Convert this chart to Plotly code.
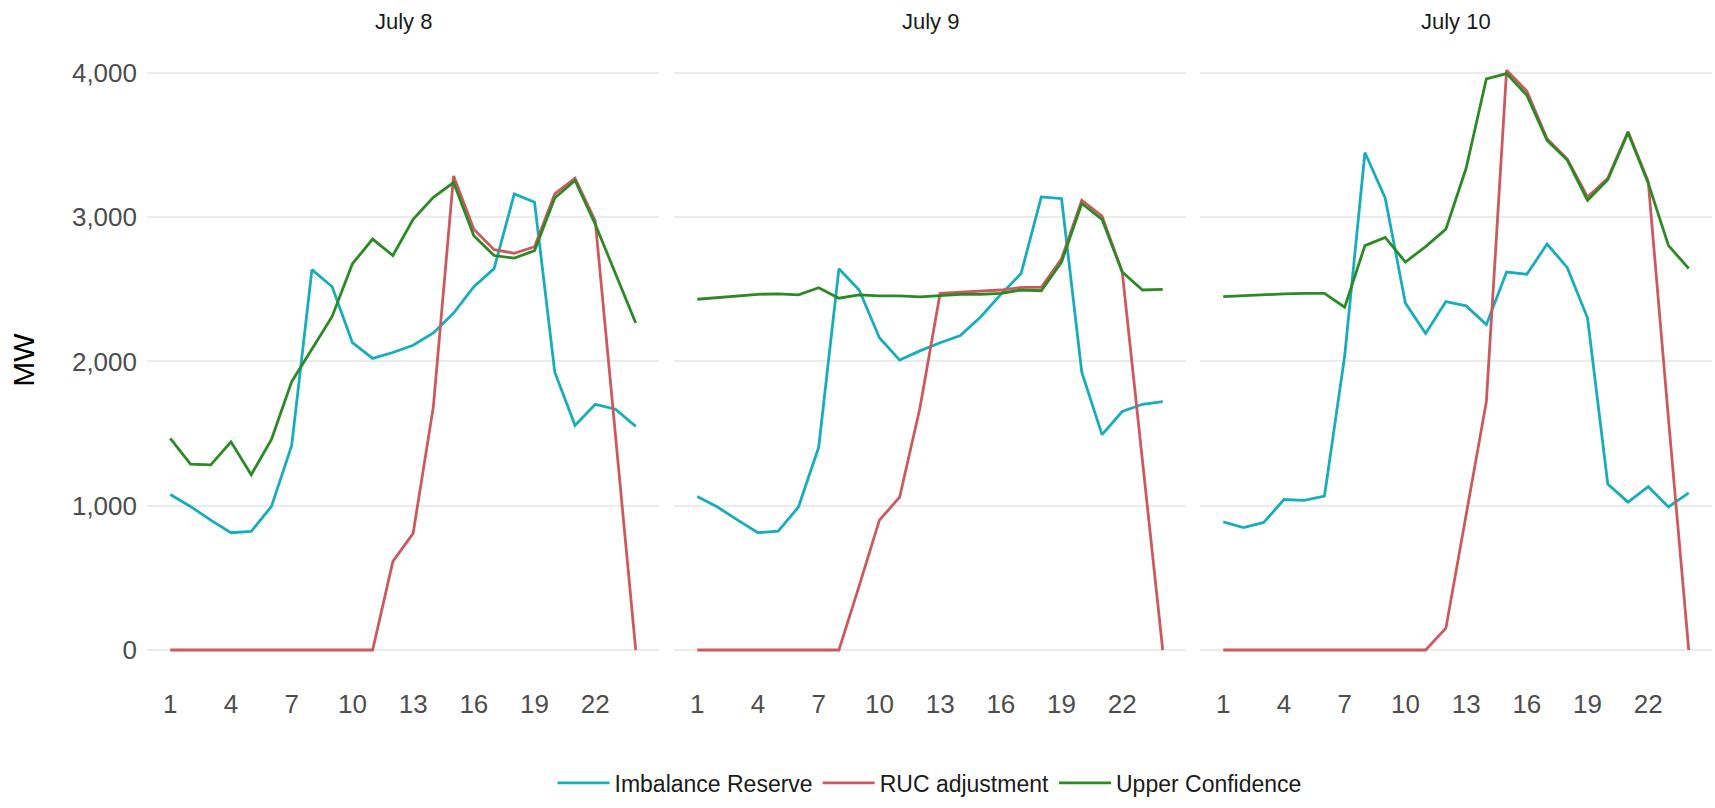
import plotly.graph_objects as go

# Hour-ending index for each day
hours = list(range(1, 25))
days = ["July 8", "July 9", "July 10"]

# Imbalance Reserve requirement (MW)
imbalance_jul8 = [1078, 995, 900, 813, 822, 995, 1418, 2636, 2518, 2130, 2021, 2062,
                  2112, 2198, 2335, 2518, 2643, 3161, 3104, 1925, 1557, 1703, 1669, 1550]
imbalance_jul9 = [1064, 991, 900, 813, 824, 991, 1406, 2643, 2495, 2164, 2009, 2073,
                  2130, 2180, 2308, 2465, 2609, 3140, 3129, 1925, 1493, 1653, 1703, 1721]
imbalance_jul10 = [888, 849, 884, 1043, 1037, 1066, 2039, 3448, 3133, 2404, 2194, 2415,
                   2385, 2255, 2620, 2604, 2814, 2650, 2301, 1151, 1025, 1132, 991, 1089]

# RUC adjustment (MW)
ruc_jul8 = [0, 0, 0, 0, 0, 0, 0, 0, 0, 0, 0, 614,
            808, 1687, 3286, 2917, 2775, 2750, 2795, 3161, 3270, 2974, 1480, 0]
ruc_jul9 = [0, 0, 0, 0, 0, 0, 0, 0, 445, 900, 1059, 1676,
            2472, 2479, 2486, 2495, 2513, 2513, 2712, 3117, 3008, 2620, 1310, 0]
ruc_jul10 = [0, 0, 0, 0, 0, 0, 0, 0, 0, 0, 0, 151,
             943, 1721, 4018, 3874, 3544, 3402, 3140, 3270, 3594, 3247, 1600, 0]

# Upper confidence bound (MW)
upper_jul8 = [1466, 1288, 1283, 1443, 1215, 1459, 1860, 2084, 2312, 2677, 2848, 2734,
              2985, 3138, 3240, 2871, 2734, 2716, 2768, 3133, 3254, 2951, 2609, 2267]
upper_jul9 = [2431, 2442, 2454, 2465, 2468, 2461, 2511, 2438, 2461, 2454, 2454, 2447,
              2456, 2465, 2465, 2472, 2495, 2490, 2689, 3095, 2985, 2620, 2495, 2499]
upper_jul10 = [2449, 2456, 2465, 2468, 2472, 2472, 2376, 2803, 2860, 2689, 2796, 2917,
               3339, 3959, 3995, 3845, 3532, 3396, 3117, 3259, 3585, 3236, 2803, 2644]

series_names = ["Imbalance Reserve", "RUC adjustment", "Upper Confidence"]
series_colors = ["#17ADBD", "#CB5A5E", "#2B8A24"]
by_day = [
    [imbalance_jul8, ruc_jul8, upper_jul8],
    [imbalance_jul9, ruc_jul9, upper_jul9],
    [imbalance_jul10, ruc_jul10, upper_jul10],
]

x_ticks = [1, 4, 7, 10, 13, 16, 19, 22]
y_ticks = [0, 1000, 2000, 3000, 4000]
y_tick_text = ["0", "1,000", "2,000", "3,000", "4,000"]

FONT = "Liberation Sans, Arial, sans-serif"
W, H = 1715, 808
ML, MR, MT, MB = 147, 3, 41, 120
plot_w = W - ML - MR

# Facet panel extents in pixels, turned into paper fractions
panel_px = [(147, 659), (674, 1186), (1200, 1712)]
domains = [[(a - ML) / plot_w, (b - ML) / plot_w] for a, b in panel_px]
domains[-1][1] = 1.0

fig = go.Figure()

for d, series in enumerate(by_day):
    ax = "" if d == 0 else str(d + 1)
    for s, values in enumerate(series):
        fig.add_trace(go.Scatter(
            x=hours, y=values, mode="lines",
            name=series_names[s],
            legendgroup=series_names[s],
            showlegend=(d == 0),
            line=dict(color=series_colors[s], width=2.8),
            xaxis="x" + ax, yaxis="y" + ax,
        ))

xmin, xmax = 1 - 0.05 * 23, 24 + 0.05 * 23
ymax_data = 4020
ymin, ymax = -0.05 * ymax_data, ymax_data * 1.05

layout = dict(
    width=W, height=H,
    margin=dict(l=ML, r=MR, t=MT, b=MB),
    paper_bgcolor="white", plot_bgcolor="white",
    font=dict(family=FONT, color="#1A1A1A"),
    showlegend=True,
    legend=dict(
        orientation="h", x=0.5, xanchor="center", y=-0.163, yanchor="middle",
        font=dict(size=23, color="#1A1A1A", family=FONT),
        itemwidth=52, bgcolor="rgba(0,0,0,0)",
    ),
)

for d in range(3):
    key = "" if d == 0 else str(d + 1)
    layout["xaxis" + key] = dict(
        domain=domains[d], range=[xmin, xmax],
        tickmode="array", tickvals=x_ticks, ticktext=[str(t) for t in x_ticks],
        showgrid=False, zeroline=False, showline=False, ticks="",
        tickfont=dict(size=26, color="#4D4D4D", family=FONT),
        ticklabelstandoff=7,
        anchor="y" + key,
    )
    layout["yaxis" + key] = dict(
        range=[ymin, ymax], domain=[0, 1],
        tickmode="array", tickvals=y_ticks, ticktext=y_tick_text,
        showticklabels=(d == 0),
        showgrid=True, gridcolor="#EBEBEB", gridwidth=1.8,
        zeroline=False, showline=False, ticks="",
        tickfont=dict(size=26, color="#4D4D4D", family=FONT),
        ticklabelstandoff=9,
        anchor="x" + key,
    )
    if d > 0:
        layout["yaxis" + key]["matches"] = "y"

layout["yaxis"]["title"] = dict(text="MW", font=dict(size=30, color="#000000", family=FONT),
                                 standoff=28)

annotations = []
for d, day in enumerate(days):
    annotations.append(dict(
        text=day, xref="paper", yref="paper",
        x=(domains[d][0] + domains[d][1]) / 2, y=1 + 20 / (H - MT - MB),
        xanchor="center", yanchor="middle", showarrow=False,
        font=dict(size=22, color="#1A1A1A", family=FONT),
    ))
layout["annotations"] = annotations

fig.update_layout(**layout)
fig.write_html("out.html")
